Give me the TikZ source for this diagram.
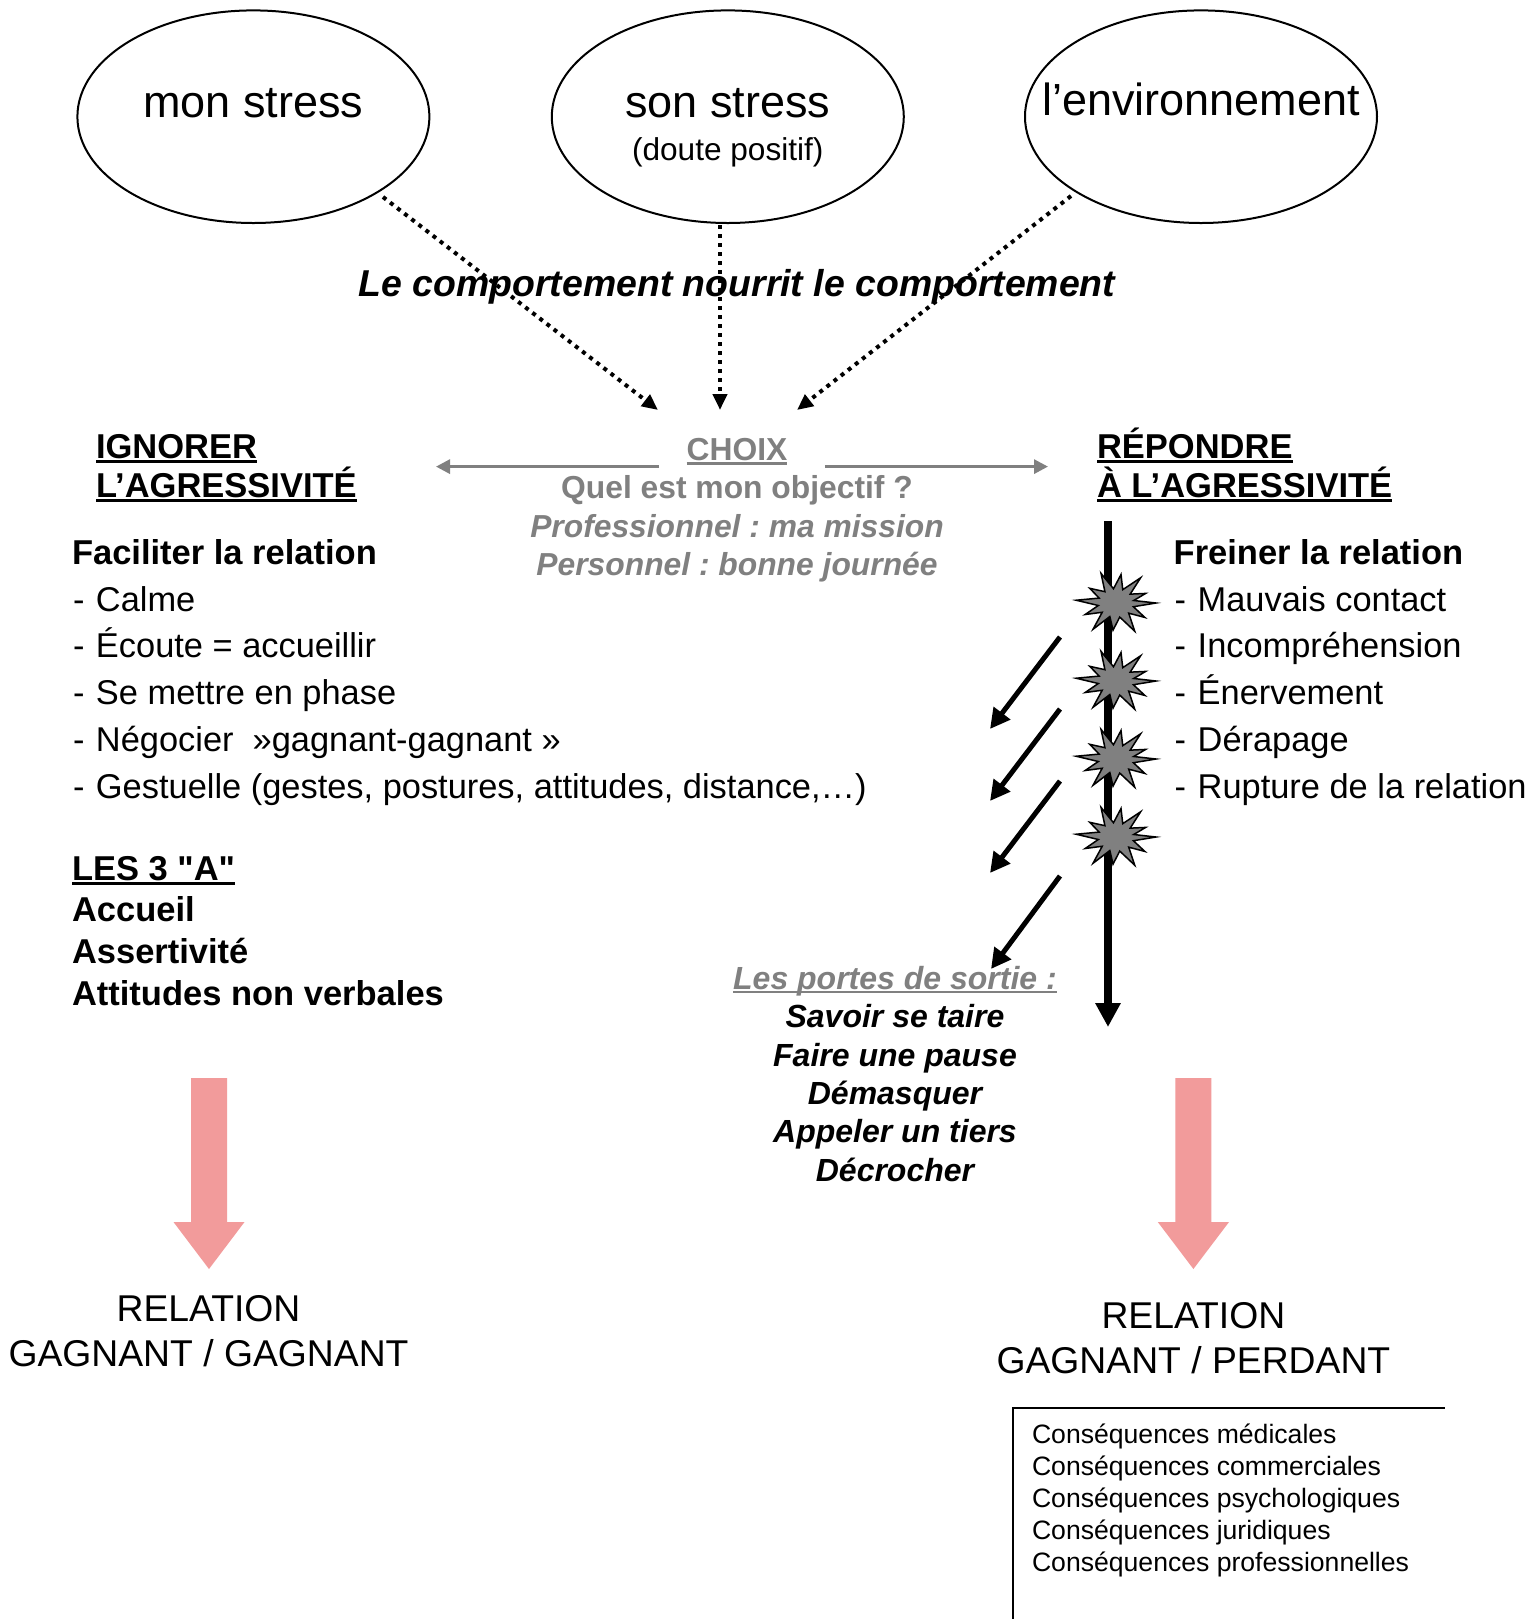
\documentclass[tikz,border=0pt]{standalone}
\usepackage{fontspec}
\setmainfont{Liberation Sans}
% same family without the TeX input mapping, for straight double quotes
\newfontfamily\rawsans{Liberation Sans}[Ligatures=TeXOff]
\usetikzlibrary{shapes.geometric,arrows.meta}
\definecolor{greytxt}{RGB}{128,128,128}
\definecolor{pinkarrow}{RGB}{242,155,155}
\definecolor{burstgrey}{RGB}{128,128,128}
\frenchspacing
% font size helper (single-line nodes only)
\newcommand{\fsz}[1]{\fontsize{#1pt}{#1pt}\selectfont}
% underline at a fixed offset below the baseline
\newcommand{\ulx}[1]{\setbox0=\hbox{#1}\rlap{\rule[-0.13em]{\wd0}{0.07em}}\box0}
% list dash
\newcommand{\dash}{-\kern1pt\ }
% grey explosion mark centred at (#1,#2)
\newcommand{\burstat}[3]{%
  \coordinate (#1) at (#2,#3);
  \begin{scope}[shift={(#2,#3)},xscale=40,yscale=32]
    \filldraw[burstsh] (0:1)
      \foreach \a/\r in {15/0.45,32/0.85,45/0.45,62/1.0,78/0.45,95/0.85,110/0.45,
                         125/1.0,140/0.45,155/0.85,170/0.45,185/1.0,200/0.45,
                         215/0.8,232/0.45,248/1.0,262/0.45,278/0.9,292/0.45,
                         308/1.0,322/0.45,338/0.8,350/0.45} {-- (\a:\r)} -- cycle;
  \end{scope}}
\begin{document}
\begin{tikzpicture}[x=0.5pt,y=-0.5pt,
  every node/.style={inner sep=0pt,outer sep=0pt},
  bubble/.style={draw,line width=1pt,ellipse,minimum width=176pt,minimum height=106.3pt},
  title/.style={font=\fsz{22.5},anchor=base},
  sub/.style={font=\fsz{15.8},anchor=base},
  motto/.style={font=\fsz{18.7}\bfseries\itshape,anchor=base},
  choix/.style={font=\fsz{15.9}\bfseries,text=greytxt,anchor=base},
  choixit/.style={font=\fsz{15.9}\bfseries\itshape,text=greytxt,anchor=base},
  head/.style={font=\fsz{17.25}\bfseries,anchor=base west},
  item/.style={font=\fsz{17.2},anchor=base west},
  exit/.style={font=\fsz{16}\bfseries\itshape,anchor=base},
  result/.style={font=\fsz{18.65},anchor=base},
  conseq/.style={font=\fsz{13.3},anchor=base west},
  dotarrow/.style={line width=2pt,dash pattern=on 2pt off 2.5pt,-{Triangle[length=8pt,width=7pt]}},
  greyarrow/.style={draw=greytxt,line width=1.5pt,-{Triangle[length=7pt,width=7pt,fill=greytxt]}},
  mainarrow/.style={line width=4pt,-{Triangle[length=12pt,width=12pt]}},
  exitarrow/.style={line width=2.5pt,-{Triangle[length=10pt,width=10pt]}},
  burstsh/.style={fill=burstgrey,draw=black,line width=0.75pt,line join=miter},
  pinkfill/.style={fill=pinkarrow}
]
\useasboundingbox (0,0) rectangle (1535,1619);
\fill[white] (0,0) rectangle (1535,1619);

% three sources of stress
\node[bubble] (e1) at (253.4,116.7) {};
\node[bubble] (e2) at (727.8,116.7) {};
\node[bubble] (e3) at (1201,116.7) {};
\node[title] (t1) at (253.4,117) {mon stress};
\node[title] (t2) at (727.8,117) {son stress};
\node[sub] (t2b) at (727.8,160) {(doute positif)};
\node[title] (t3) at (1201,115) {l’environnement};

% dotted arrows converging on the choice
\coordinate (d1a) at (383,197);  \coordinate (d1b) at (658,410);
\coordinate (d2a) at (720,225);  \coordinate (d2b) at (720,410);
\coordinate (d3a) at (1071,196); \coordinate (d3b) at (797,410);
\draw[dotarrow] (d1a) -- (d1b);
\draw[dotarrow] (d2a) -- (d2b);
\draw[dotarrow] (d3a) -- (d3b);

\node[motto] (motto) at (737,296.5) {Le comportement nourrit le comportement};

% the choice
\node[choix] (choix) at (737,460.4) {\ulx{CHOIX}};
\node[choix] (obj) at (737,498.4) {Quel est mon objectif ?};
\node[choixit] (pro) at (737,537) {Professionnel : ma mission};
\node[choixit] (perso) at (737,575) {Personnel : bonne journée};
\coordinate (gl0) at (659,466.6);   \coordinate (gl1) at (436,466.6);
\coordinate (gr0) at (824.8,466.6); \coordinate (gr1) at (1048,466.6);
\draw[greyarrow] (gl0) -- (gl1);
\draw[greyarrow] (gr0) -- (gr1);

% left branch
\node[head] (ign1) at (96,458.4) {\ulx{IGNORER}};
\node[head] (ign2) at (96,497.4) {\ulx{L’AGRESSIVITÉ}};
\node[head] (fac) at (72,564.4) {Faciliter la relation};
\node[item] (l1) at (73,611.1) {\dash Calme};
\node[item] (l2) at (73,657.6) {\dash Écoute = accueillir};
\node[item] (l3) at (73,704) {\dash Se mettre en phase};
\node[item] (l4) at (73,751.5) {\dash Négocier\ \ »gagnant-gagnant »};
\node[item] (l5) at (73,798) {\dash Gestuelle (gestes, postures, attitudes, distance,…)};
\node[head] (les3) at (72,880.4) {\ulx{\rawsans\bfseries LES 3 "A"}};
\node[head] (acc) at (72,921.9) {Accueil};
\node[head] (ass) at (72,963.1) {Assertivité};
\node[head] (att) at (72,1005.4) {Attitudes non verbales};

% right branch
\node[head] (rep1) at (1097,458.4) {\ulx{RÉPONDRE}};
\node[head] (rep2) at (1097,497.4) {\ulx{À L’AGRESSIVITÉ}};
\node[head] (fre) at (1173.7,564.4) {Freiner la relation};
\node[item] (r1) at (1174.7,611.1) {\dash Mauvais contact};
\node[item] (r2) at (1174.7,657.6) {\dash Incompréhension};
\node[item] (r3) at (1174.7,704) {\dash Énervement};
\node[item] (r4) at (1174.7,751.5) {\dash Dérapage};
\node[item] (r5) at (1174.7,798) {\dash Rupture de la relation};

% escalation line with its explosions on top
\coordinate (va) at (1108,521);
\coordinate (vb) at (1108,1027);
\draw[mainarrow] (va) -- (vb);
\burstat{b1}{1116}{603}
\burstat{b2}{1116}{681}
\burstat{b3}{1116}{759}
\burstat{b4}{1116}{837}

% exits
\coordinate (x1a) at (1060,637); \coordinate (x1b) at (990,729);
\coordinate (x2a) at (1060,709); \coordinate (x2b) at (990,801);
\coordinate (x3a) at (1060,781); \coordinate (x3b) at (990,873);
\coordinate (x4a) at (1060,876); \coordinate (x4b) at (991,969);
\draw[exitarrow] (x1a) -- (x1b);
\draw[exitarrow] (x2a) -- (x2b);
\draw[exitarrow] (x3a) -- (x3b);
\draw[exitarrow] (x4a) -- (x4b);

\node[exit,text=greytxt] (portes) at (895,989) {\ulx{Les portes de sortie :}};
\node[exit] (p1) at (895,1027.3) {Savoir se taire};
\node[exit] (p2) at (895,1066.5) {Faire une pause};
\node[exit] (p3) at (895,1104.7) {Démasquer};
\node[exit] (p4) at (895,1142.9) {Appeler un tiers};
\node[exit] (p5) at (895,1181) {Décrocher};

% outcome arrows
\fill[pinkfill] (191,1078) -- (227,1078) -- (227,1222) -- (244.5,1222) -- (209,1269)
  -- (173.5,1222) -- (191,1222) -- cycle;
\fill[pinkfill] (1175.4,1078) -- (1211.4,1078) -- (1211.4,1222) -- (1229,1222) -- (1193.4,1269)
  -- (1157.8,1222) -- (1175.4,1222) -- cycle;

\node[result] (gg1) at (208.5,1321.4) {RELATION};
\node[result] (gg2) at (208.5,1366.8) {GAGNANT / GAGNANT};
\node[result] (gp1) at (1193.4,1328.4) {RELATION};
\node[result] (gp2) at (1193.4,1373) {GAGNANT / PERDANT};

% consequences
\coordinate (cb0) at (1013,1619);
\coordinate (cb1) at (1013,1407.5);
\coordinate (cb2) at (1445,1407.5);
\draw[line width=1pt] (cb0) -- (cb1) -- (cb2);
\node[conseq] (c1) at (1032,1443.6) {Conséquences médicales};
\node[conseq] (c2) at (1032,1475.6) {Conséquences commerciales};
\node[conseq] (c3) at (1032,1507.6) {Conséquences psychologiques};
\node[conseq] (c4) at (1032,1539.6) {Conséquences juridiques};
\node[conseq] (c5) at (1032,1571.6) {Conséquences professionnelles};
\end{tikzpicture}
\end{document}
